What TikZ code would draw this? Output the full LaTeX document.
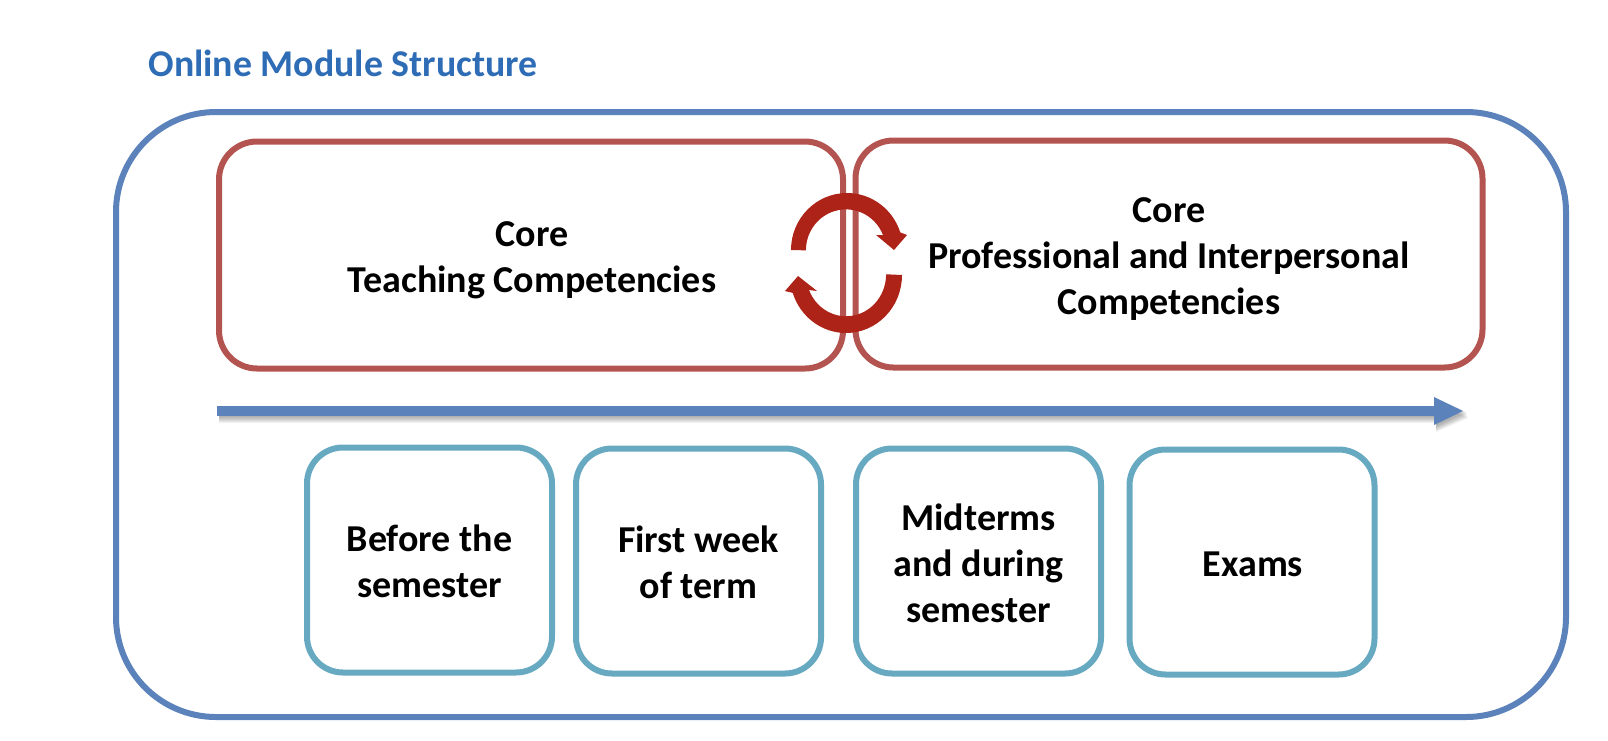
\documentclass[tikz,border=0pt]{standalone}
\usepackage{fontspec}
\setmainfont{Carlito}
\definecolor{outerblue}{HTML}{5B82BA}
\definecolor{redbox}{HTML}{B35450}
\definecolor{cyanbox}{HTML}{68A9C2}
\definecolor{titleblue}{HTML}{2E6DB5}
\definecolor{cyclered}{HTML}{AE2318}
\tikzset{
  labeltext/.style={font=\fontsize{38}{46}\selectfont\bfseries,align=center,text=black},
  corebox/.style={draw=redbox,line width=6pt,rounded corners=38pt,fill=none},
  phasebox/.style={draw=cyanbox,line width=6pt,rounded corners=36pt,fill=none,minimum width=245pt,minimum height=225pt},
  outerbox/.style={draw=outerblue,line width=6pt,rounded corners=100pt,minimum width=1450pt,minimum height=605pt},
  cyclearrow/.style={fill=cyclered,draw=none},
}
\begin{document}
\begin{tikzpicture}[x=1pt,y=-1pt]
\useasboundingbox (0,0) rectangle (1608,740);
\node[outerbox] (outer) at (841,414.5) {};
\node[anchor=west,font=\fontsize{37.8}{44}\selectfont\bfseries,text=titleblue] (title) at (145,63) {Online Module Structure};
\node[corebox,minimum width=624pt,minimum height=227pt] (teach) at (531,255) {};
\node[labeltext] (teachtext) at (532,260) {Core\\Teaching Competencies};
\node[corebox,minimum width=627pt,minimum height=227pt] (prof) at (1169,254) {};
\node[labeltext] (proftext) at (1169,259.5) {Core\\Professional and Interpersonal\\Competencies};
% timeline shadow
\foreach \o in {1,2,...,7}{
  \fill[black,opacity=0.05] (219,406+\o) -- (1436,406+\o) -- (1436,397+\o) -- (1466+\o*0.3,411+\o) -- (1436,425+\o) -- (1436,416+\o) -- (219,416+\o) -- cycle;
}
\coordinate (tlstart) at (217,411);
\coordinate (tlbase) at (1434,411);
\coordinate (tlend) at (1463,411);
\draw[outerblue,line width=10pt] (tlstart) -- (tlbase);
\fill[outerblue] (tlend) -- (1434,397) -- (1434,425) -- cycle;
\node[phasebox] (p1) at (429.5,560) {};
\node[labeltext] (p1text) at (429.5,561.5) {Before the\\semester};
\node[phasebox] (p2) at (698.5,561) {};
\node[labeltext] (p2text) at (698.5,562) {First week\\of term};
\node[phasebox] (p3) at (978.5,561) {};
\node[labeltext] (p3text) at (978.5,563) {Midterms\\and during\\semester};
\node[phasebox] (p4) at (1252,562) {};
\node[labeltext] (p4text) at (1253,564) {Exams};
% cycle arrows
\fill[cyclearrow] (791,250) arc[start angle=180,end angle=342,x radius=56,y radius=57] -- (907,235) -- (894,250) -- (876,235) -- (883,235) arc[start angle=-22,end angle=-180,x radius=40,y radius=41] -- cycle;
\fill[cyclearrow] (902,275) arc[start angle=0,end angle=162,x radius=56,y radius=58] -- (785,291) -- (798,276) -- (817,291) -- (809,290) arc[start angle=158,end angle=0,x radius=40,y radius=42] -- cycle;
\end{tikzpicture}
\end{document}
